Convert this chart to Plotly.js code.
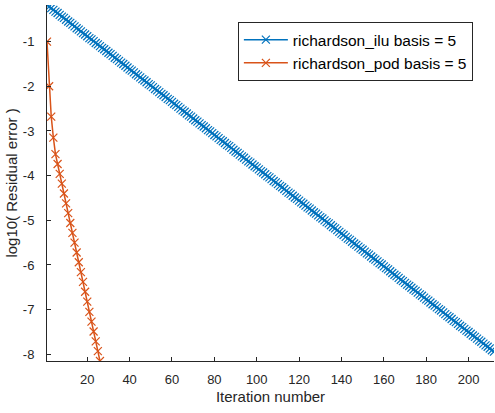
<!DOCTYPE html>
<html>
<head>
<meta charset="utf-8">
<script src="https://cdn.plot.ly/plotly-3.0.1.min.js"></script>
<style>html,body{margin:0;padding:0;background:#fff;}#chart{width:495px;height:413px;}</style>
</head>
<body>
<div id="chart"></div>
<script>
// Series names
const seriesNames = ["richardson_ilu basis = 5", "richardson_pod basis = 5"];

// richardson_ilu: log10 residual per iteration (iterations 1..212)
const iluResidual = [
-0.18,-0.22,-0.25,-0.29,-0.33,-0.36,-0.40,-0.44,-0.47,-0.51,
-0.55,-0.58,-0.62,-0.66,-0.70,-0.73,-0.77,-0.81,-0.84,-0.88,
-0.92,-0.95,-0.99,-1.03,-1.06,-1.10,-1.14,-1.17,-1.21,-1.25,
-1.28,-1.32,-1.36,-1.39,-1.43,-1.47,-1.50,-1.54,-1.58,-1.62,
-1.65,-1.69,-1.73,-1.76,-1.80,-1.84,-1.87,-1.91,-1.95,-1.98,
-2.02,-2.06,-2.09,-2.13,-2.17,-2.20,-2.24,-2.28,-2.31,-2.35,
-2.39,-2.42,-2.46,-2.50,-2.54,-2.57,-2.61,-2.65,-2.68,-2.72,
-2.76,-2.79,-2.83,-2.87,-2.90,-2.94,-2.98,-3.01,-3.05,-3.09,
-3.12,-3.16,-3.20,-3.23,-3.27,-3.31,-3.34,-3.38,-3.42,-3.46,
-3.49,-3.53,-3.57,-3.60,-3.64,-3.68,-3.71,-3.75,-3.79,-3.82,
-3.86,-3.90,-3.93,-3.97,-4.01,-4.04,-4.08,-4.12,-4.15,-4.19,
-4.23,-4.26,-4.30,-4.34,-4.38,-4.41,-4.45,-4.49,-4.52,-4.56,
-4.60,-4.63,-4.67,-4.71,-4.74,-4.78,-4.82,-4.85,-4.89,-4.93,
-4.96,-5.00,-5.04,-5.07,-5.11,-5.15,-5.18,-5.22,-5.26,-5.30,
-5.33,-5.37,-5.41,-5.44,-5.48,-5.52,-5.55,-5.59,-5.63,-5.66,
-5.70,-5.74,-5.77,-5.81,-5.85,-5.88,-5.92,-5.96,-5.99,-6.03,
-6.07,-6.10,-6.14,-6.18,-6.22,-6.25,-6.29,-6.33,-6.36,-6.40,
-6.44,-6.47,-6.51,-6.55,-6.58,-6.62,-6.66,-6.69,-6.73,-6.77,
-6.80,-6.84,-6.88,-6.91,-6.95,-6.99,-7.02,-7.06,-7.10,-7.14,
-7.17,-7.21,-7.25,-7.28,-7.32,-7.36,-7.39,-7.43,-7.47,-7.50,
-7.54,-7.58,-7.61,-7.65,-7.69,-7.72,-7.76,-7.80,-7.83,-7.87,
-7.91,-7.94
];

// richardson_pod: log10 residual per iteration (iterations 1..26)
const podResidual = [
-1.00,-2.00,-2.68,-3.15,-3.52,-3.74,-3.96,-4.18,-4.40,-4.62,
-4.84,-5.06,-5.28,-5.50,-5.72,-5.94,-6.16,-6.38,-6.60,-6.82,
-7.05,-7.27,-7.49,-7.71,-7.93,-8.15
];

// Tick labels
const xTickVals = [20, 40, 60, 80, 100, 120, 140, 160, 180, 200];
const yTickVals = [-8, -7, -6, -5, -4, -3, -2, -1];
const yTickText = ["-8", "-7", "-6", "-5", "-4", "-3", "-2", "-1"];

const iluIter = iluResidual.map((_, i) => i + 1);
const podIter = podResidual.map((_, i) => i + 1);

const font = "Liberation Sans, Arial, Helvetica, sans-serif";
const axisColor = "#262626";

const traces = [
  {
    x: iluIter, y: iluResidual, name: seriesNames[0], type: "scatter", mode: "lines+markers",
    line: {color: "#0072BD", width: 1.5},
    marker: {symbol: "x-thin", size: 8, line: {color: "#0072BD", width: 1.2}, color: "#0072BD"}
  },
  {
    x: podIter, y: podResidual, name: seriesNames[1], type: "scatter", mode: "lines+markers",
    line: {color: "#D95319", width: 1.5},
    marker: {symbol: "x-thin", size: 8, line: {color: "#D95319", width: 1.2}, color: "#D95319"}
  }
];

const layout = {
  width: 495, height: 413,
  margin: {l: 47, r: 1, t: 5, b: 52, autoexpand: false},
  paper_bgcolor: "#fff", plot_bgcolor: "#fff",
  font: {family: font, size: 13, color: axisColor},
  showlegend: true,
  legend: {
    x: 0.427, y: 0.952, xanchor: "left", yanchor: "top",
    bgcolor: "#fff", bordercolor: axisColor, borderwidth: 1,
    font: {family: font, size: 15.5, color: "#000"},
    itemwidth: 44, tracegroupgap: 0
  },
  xaxis: {
    range: [1, 212], tickvals: xTickVals, ticks: "inside", ticklen: 4, tickcolor: axisColor,
    showline: true, linecolor: axisColor, linewidth: 1, showgrid: false, zeroline: false,
    tickfont: {family: font, size: 13, color: axisColor}, ticklabelstandoff: 6,
    title: {text: "Iteration number", font: {family: font, size: 15, color: axisColor}, standoff: 5},
    automargin: false
  },
  yaxis: {
    range: [-8.15, -0.18], tickvals: yTickVals, ticktext: yTickText, ticks: "inside", ticklen: 4, tickcolor: axisColor,
    showline: true, linecolor: axisColor, linewidth: 1, showgrid: false, zeroline: false,
    tickfont: {family: font, size: 13, color: axisColor}, ticklabelstandoff: 9,
    title: {text: "log10( Residual error )", font: {family: font, size: 15, color: axisColor}, standoff: 1},
    automargin: false
  }
};

Plotly.newPlot("chart", traces, layout, {displayModeBar: false, staticPlot: true});
</script>
</body>
</html>
